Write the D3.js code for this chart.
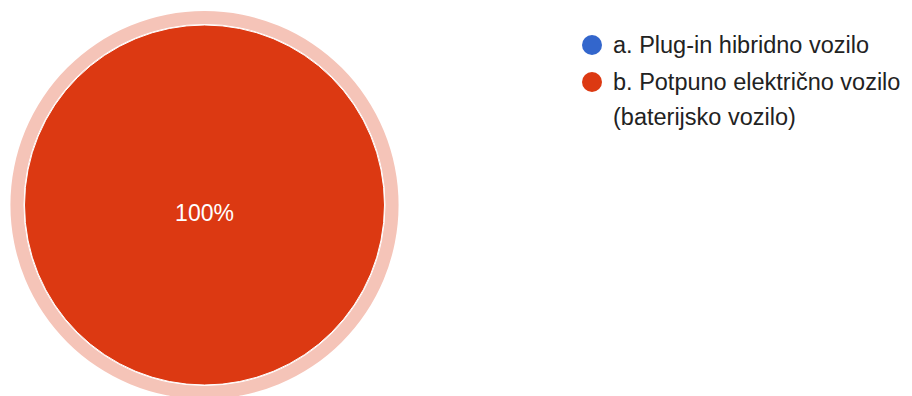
<!DOCTYPE html>
<html><head><meta charset="utf-8">
<script src="https://cdn.jsdelivr.net/npm/d3@7"></script>
<style>html,body{margin:0;padding:0;background:#fff;}</style>
</head><body>
<svg id="c" width="912" height="396"></svg>
<script>
const categories = ["a. Plug-in hibridno vozilo", "b. Potpuno električno vozilo (baterijsko vozilo)"];
const legendLines = [["a. Plug-in hibridno vozilo"], ["b. Potpuno električno vozilo", "(baterijsko vozilo)"]];
const values = [0, 100];
const colors = ["#3366cc", "#dc3912"];
const haloColors = ["#c2d1f0", "#f5c4b8"];

const svg = d3.select("#c");
const cx = 204.5, cy = 205, r = 180;
const g = svg.append("g").attr("transform", `translate(${cx},${cy})`);
const pie = d3.pie().sort(null).value(d => d.v);
const data = categories.map((c, i) => ({c, v: values[i], i}));
const arcs = pie(data).filter(a => a.data.v > 0);
const total = d3.sum(values);

g.selectAll("path.halo").data(arcs).join("path")
  .attr("class", "halo")
  .attr("d", d3.arc().innerRadius(r + 1).outerRadius(r + 14))
  .attr("fill", d => haloColors[d.data.i]);
g.selectAll("path.slice").data(arcs).join("path")
  .attr("class", "slice")
  .attr("d", d3.arc().innerRadius(0).outerRadius(r))
  .attr("fill", d => colors[d.data.i])
  .attr("stroke", "#fff").attr("stroke-width", 1);
const fmt = d3.format(".0%");
g.selectAll("text.lbl").data(arcs).join("text")
  .attr("class", "lbl")
  .attr("transform", d => {
    if (d.endAngle - d.startAngle >= 2 * Math.PI - 1e-6) return "translate(0,16)";
    const [x, y] = d3.arc().innerRadius(r*0.6).outerRadius(r*0.6).centroid(d); return `translate(${x},${y+8})`;
  })
  .attr("text-anchor", "middle")
  .attr("fill", "#fff")
  .attr("font-family", "Arial, 'Liberation Sans', sans-serif")
  .attr("font-size", 23)
  .text(d => fmt(d.data.v / total));

const leg = svg.append("g").attr("transform", "translate(592,45)");
const item = leg.selectAll("g").data(legendLines).join("g")
  .attr("transform", (d, i) => `translate(0,${i * 37})`);
item.append("circle").attr("r", 10).attr("fill", (d, i) => colors[i]);
item.append("text")
  .attr("x", 21).attr("y", 8)
  .attr("fill", "#222")
  .attr("font-family", "Arial, 'Liberation Sans', sans-serif")
  .attr("font-size", 23.5)
  .selectAll("tspan").data(d => d).join("tspan")
  .attr("x", 21).attr("dy", (d, i) => i ? 35 : 0)
  .text(d => d);
</script>
</body></html>
